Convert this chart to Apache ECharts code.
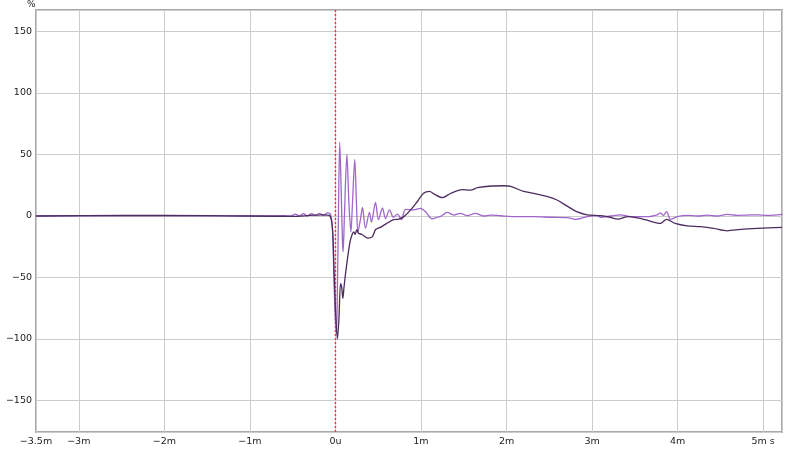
<!DOCTYPE html>
<html><head><meta charset="utf-8">
<script src="https://cdn.jsdelivr.net/npm/echarts@6/dist/echarts.min.js"></script>
<style>html,body{margin:0;padding:0;background:#fff}#c{width:800px;height:449px}</style>
</head><body><div id="c"></div>
<script>
// time in ms, values in %
const lightT = [-3.5,-2.5,-1.5,-1,-0.6,-0.526,-0.468,-0.421,-0.374,-0.327,-0.281,-0.234,-0.187,-0.14,-0.094,-0.058,-0.035,-0.018,0,0.012,0.023,0.035,0.05,0.064,0.082,0.09,0.105,0.134,0.158,0.181,0.199,0.226,0.246,0.263,0.292,0.316,0.351,0.398,0.421,0.468,0.503,0.55,0.585,0.632,0.678,0.725,0.772,0.819,0.912,0.994,1.053,1.131,1.19,1.24,1.306,1.384,1.462,1.54,1.637,1.731,1.813,1.93,2.125,2.316,2.515,2.71,2.807,2.944,3.061,3.1,3.216,3.333,3.45,3.646,3.763,3.801,3.833,3.871,3.918,3.996,4.114,4.23,4.347,4.464,4.581,4.698,4.815,4.932,5.049,5.228];
const lightV = [0,0.3,0.2,0,0.3,0,1.5,0,2,0,2,0.3,2.2,0.5,2.5,1.5,-10,-50,-85,-95,-60,0,60,30,-20,-29,0,50,10,-13,10,46,10,-13,-3,7,-10,3,-5,11,-3,6.5,-2,5,-1,1.5,-3,5.4,5,6.2,3.5,-2.4,-1,0,3,0.8,2.2,0.3,2.2,0,0.8,0.2,-0.5,-0.5,-1,-1.3,-2.7,-0.5,0.3,-1,0,1,-0.5,-0.5,1,2.5,0.5,3.5,-2.7,-0.5,0.5,0,0.8,0,1.4,0.6,0.8,1,0.6,1.4];
const darkT = [-3.5,-2.5,-1.5,-1,-0.5,-0.3,-0.15,-0.07,-0.035,-0.018,0,0.023,0.04,0.06,0.073,0.087,0.1,0.129,0.168,0.195,0.215,0.23,0.25,0.27,0.31,0.38,0.43,0.47,0.53,0.6,0.68,0.74,0.8,0.88,0.96,1.03,1.1,1.15,1.25,1.35,1.48,1.58,1.66,1.82,1.97,2.05,2.2,2.32,2.47,2.59,2.71,2.82,2.94,3.1,3.21,3.3,3.42,3.56,3.62,3.8,3.87,3.97,4.11,4.27,4.42,4.58,4.74,4.93,5.22];
const darkV = [0,0.5,0.3,0,-0.3,0.5,1,0.5,-10,-40,-75,-100,-85,-55,-58,-67,-58,-41,-22,-15,-13,-15,-11,-14,-15,-18,-17,-11,-9,-6,-3,-2.5,-0.5,5,12,18.5,20,18,15,18.5,21.5,21,23,24.4,24.6,24,20,18.4,16,13,8,3.5,1,0.3,-1,-2.5,-0.5,-2,-3,-6,-2.7,-6,-8,-8.7,-10,-12,-10.8,-10,-9.2];
const markerT = [0];
const xTickLabels = {'-3.5':'\u22123.5m','-3':'\u22123m','-2':'\u22122m','-1':'\u22121m','0':'0u','1':'1m','2':'2m','3':'3m','4':'4m','5':'5m s'};
const yTickValues = [-150,-100,-50,0,50,100,150];

const chart = echarts.init(document.getElementById('c'), null, {renderer:'canvas'});
const font = 'DejaVu Sans';
chart.setOption({
  animation:false,
  backgroundColor:'#fff',
  grid:{left:36,right:18,top:10,bottom:17,show:true,borderColor:'#a8a8a8',borderWidth:2,backgroundColor:'#fff'},
  xAxis:{type:'value',min:-3.5,max:5.22,splitNumber:9,
    axisLine:{show:false},axisTick:{show:false},
    splitLine:{show:true,lineStyle:{color:'#cccccc',width:1}},
    axisLabel:{margin:5,color:'#222',fontFamily:font,fontSize:9.5,showMaxLabel:false,
      formatter:v=>{const k=String(Math.round(v*10)/10);return xTickLabels[k]!==undefined?xTickLabels[k]:'';}}},
  yAxis:{type:'value',min:-175.6,max:167.5,splitNumber:5,
    axisLine:{show:false},axisTick:{show:false},
    splitLine:{show:true,lineStyle:{color:'#cccccc',width:1}},
    axisLabel:{margin:4,color:'#222',fontFamily:font,fontSize:9.5,
      formatter:v=>{const r=Math.round(v);return (Math.abs(v-r)<1e-6 && yTickValues.includes(r))?(r<0?'\u2212'+(-r):String(r)):'';}}},
  graphic:[{type:'text',left:27,top:0,style:{text:'%',font:'9px '+font,fill:'#222'}}],
  series:[
    {type:'line',data:[[markerT[0],-175.6],[markerT[0],167.5]],showSymbol:false,silent:true,
     lineStyle:{color:'#ee3b3b',width:1.5,type:[2,2]},z:1},
    {type:'line',data:lightT.map((t,i)=>[t,lightV[i]]),showSymbol:false,smooth:0.3,
     lineStyle:{color:'#a066cc',width:1.3},z:2},
    {type:'line',data:darkT.map((t,i)=>[t,darkV[i]]),showSymbol:false,smooth:0.3,
     lineStyle:{color:'#4d2d5f',width:1.3},z:3}
  ]
});
</script></body></html>
